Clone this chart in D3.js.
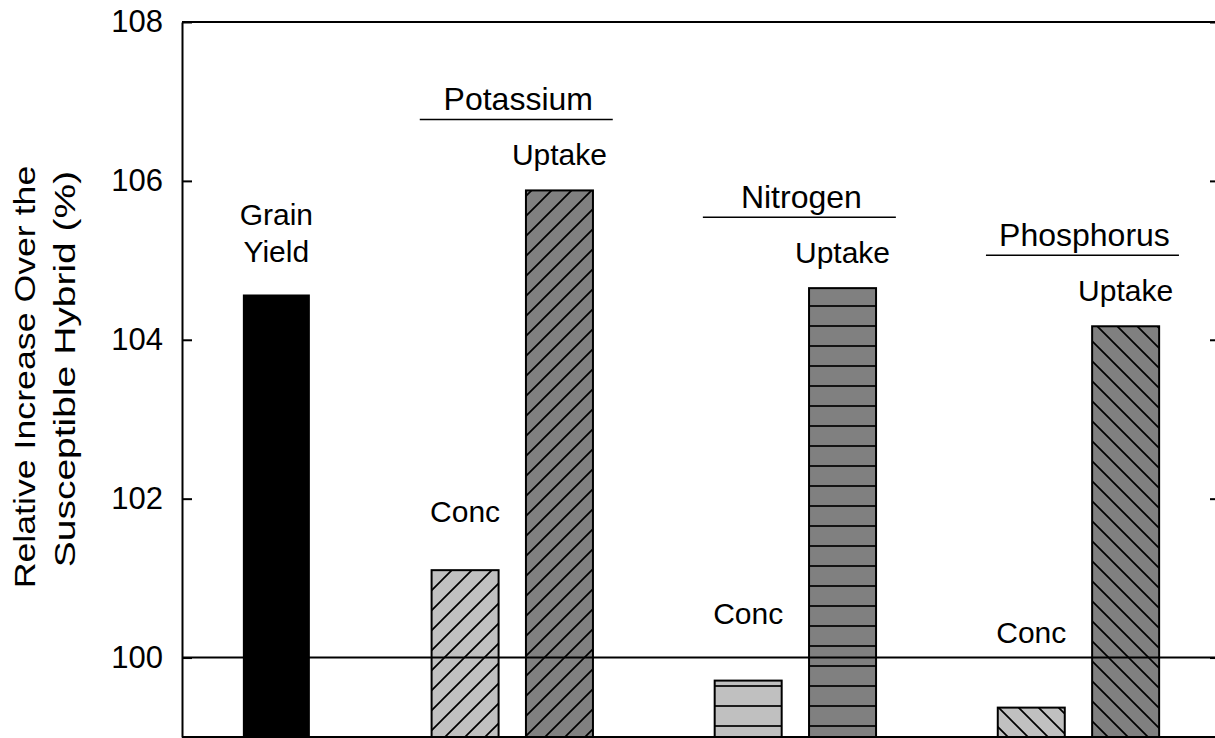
<!DOCTYPE html>
<html>
<head>
<meta charset="utf-8">
<script src="https://cdn.jsdelivr.net/npm/d3@7"></script>
<style>
  body { margin: 0; background: #fff; }
  svg { display: block; }
  text { font-family: "Liberation Sans", Arial, sans-serif; fill: #000; }
</style>
</head>
<body>
<script>
// values (relative increase, %)
var nutrients = ["Potassium", "Nitrogen", "Phosphorus"];
var grainYield = 104.57;
var concValues = [101.10, 99.71, 99.37];
var uptakeValues = [105.88, 104.65, 104.17];
var yTicks = [100, 102, 104, 106, 108];
var hatches = ["fwd", "horiz", "back"];
var titleLines = ["Relative Increase Over the", "Susceptible Hybrid (%)"];

var width = 1215, height = 738;
var margin = {top: 22, right: -5, bottom: 1, left: 182};

var light = "#c0c0c0", dark = "#808080";
var barW = 67;
// pixel gap between the "Conc" labels and their bar tops
var concGap = [48, 57, 65];

var svg = d3.select("body").append("svg")
    .attr("width", width)
    .attr("height", height);

var y = d3.scaleLinear().domain([99, 108]).range([height - margin.bottom, margin.top]);
// bars sit on slots: grain at 1, then each nutrient takes two slots with a gap
var x = d3.scaleLinear().domain([0, 11]).range([margin.left, width - margin.right]);

// hatch patterns
var defs = svg.append("defs");
var patterns = {
  fwd: {d: "M0,20L20,0M-5,5L5,-5M15,25L25,15", x: 2},
  horiz: {d: "M-1,6H21", x: 0},
  back: {d: "M0,0L20,20M-5,15L5,25M15,-5L25,5", x: 11}
};
Object.keys(patterns).forEach(function(k) {
  defs.append("pattern")
      .attr("id", "hatch-" + k)
      .attr("patternUnits", "userSpaceOnUse")
      .attr("x", patterns[k].x)
      .attr("width", 20)
      .attr("height", 20)
    .append("path")
      .attr("d", patterns[k].d)
      .attr("stroke", "#000")
      .attr("stroke-width", 1.7)
      .attr("fill", "none");
});

// build the bar list from the arrays
var bars = [{slot: 1, value: grainYield, fill: "#000", hatch: null}];
nutrients.forEach(function(n, i) {
  bars.push({slot: 3 + 3 * i, value: concValues[i], fill: light, hatch: hatches[i], kind: "Conc", gi: i});
  bars.push({slot: 4 + 3 * i, value: uptakeValues[i], fill: dark, hatch: hatches[i], kind: "Uptake", gi: i});
});

var bottomY = height - margin.bottom;

var barG = svg.append("g").selectAll("g")
    .data(bars)
  .enter().append("g");

barG.append("rect")
    .attr("x", function(d) { return x(d.slot) - barW / 2; })
    .attr("y", function(d) { return y(d.value); })
    .attr("width", barW)
    .attr("height", function(d) { return bottomY - y(d.value) + 2; })
    .attr("fill", function(d) { return d.fill; });

barG.filter(function(d) { return d.hatch; }).append("rect")
    .attr("x", function(d) { return x(d.slot) - barW / 2; })
    .attr("y", function(d) { return y(d.value); })
    .attr("width", barW)
    .attr("height", function(d) { return bottomY - y(d.value) + 2; })
    .attr("fill", function(d) { return "url(#hatch-" + d.hatch + ")"; })
    .attr("stroke", "#000")
    .attr("stroke-width", 2);

// reference line at 100
svg.append("line")
    .attr("x1", margin.left).attr("x2", width)
    .attr("y1", y(100)).attr("y2", y(100))
    .attr("stroke", "#000").attr("stroke-width", 2);

// frame lines: top and bottom
svg.append("line")
    .attr("x1", margin.left).attr("x2", width)
    .attr("y1", margin.top).attr("y2", margin.top)
    .attr("stroke", "#000").attr("stroke-width", 2);
svg.append("line")
    .attr("x1", margin.left).attr("x2", width)
    .attr("y1", bottomY).attr("y2", bottomY)
    .attr("stroke", "#000").attr("stroke-width", 2);

// left axis
var yAxis = d3.axisLeft(y).tickValues(yTicks)
    .tickSizeInner(-10).tickSizeOuter(0).tickPadding(19);
var yg = svg.append("g")
    .attr("transform", "translate(" + margin.left + ",0)")
    .call(yAxis);
yg.select(".domain").attr("stroke-width", 2);
yg.selectAll(".tick line").attr("stroke-width", 2);
yg.selectAll(".tick text")
    .style("font-size", "31px")
    .style("font-family", "'Liberation Sans', Arial, sans-serif");

// right axis (only ticks show, the line itself is off the edge)
var yAxisR = d3.axisRight(y).tickValues(yTicks)
    .tickSizeInner(-10).tickSizeOuter(0).tickFormat("");
var yr = svg.append("g")
    .attr("transform", "translate(" + x(11) + ",0)")
    .call(yAxisR);
yr.selectAll(".tick line").attr("stroke-width", 2);

// axis title, two rotated lines (stretched along their length like the original)
svg.append("text")
    .attr("transform", "translate(35,377) rotate(-90) scale(1.19,1)")
    .attr("text-anchor", "middle")
    .style("font-size", "30px")
    .text(titleLines[0]);
svg.append("text")
    .attr("transform", "translate(75,369) rotate(-90) scale(1.3,1)")
    .attr("text-anchor", "middle")
    .style("font-size", "30px")
    .text(titleLines[1]);

// grain yield label
var gx = x(1), gTop = y(grainYield);
svg.append("text").attr("x", gx).attr("y", gTop - 69)
    .attr("text-anchor", "middle").style("font-size", "30px").text("Grain");
svg.append("text").attr("x", gx).attr("y", gTop - 32)
    .attr("text-anchor", "middle").style("font-size", "30px").text("Yield");

// Conc / Uptake labels
barG.filter(function(d) { return d.kind; }).append("text")
    .attr("x", function(d) { return x(d.slot); })
    .attr("y", function(d) {
      return d.kind == "Conc" ? y(d.value) - concGap[d.gi] : y(d.value) - 25;
    })
    .attr("text-anchor", "middle")
    .style("font-size", "30px")
    .text(function(d) { return d.kind; });

// nutrient group headers with a rule underneath
nutrients.forEach(function(n, i) {
  var cx = (x(3 + 3 * i) + x(4 + 3 * i)) / 2;
  var lineY = y(uptakeValues[i]) - 25 - 46;
  svg.append("line")
      .attr("x1", cx + 4 - 96.5).attr("x2", cx + 4 + 96.5)
      .attr("y1", lineY).attr("y2", lineY)
      .attr("stroke", "#000").attr("stroke-width", 1.5);
  svg.append("text")
      .attr("x", cx + 6).attr("y", lineY - 9)
      .attr("text-anchor", "middle")
      .style("font-size", "32px")
      .text(n);
});
</script>
</body>
</html>
